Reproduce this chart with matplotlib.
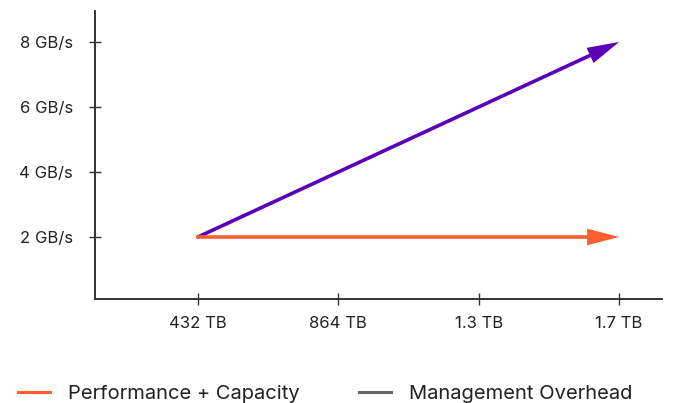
import matplotlib
matplotlib.use("Agg")
import matplotlib.pyplot as plt
from matplotlib.lines import Line2D

plt.rcParams['font.family'] = ['Inter', 'DejaVu Sans']

# data
x_labels = ["432 TB", "864 TB", "1.3 TB", "1.7 TB"]
x_pos = [1, 2, 3, 4]
y_ticks = [2, 4, 6, 8]
y_labels = ["2 GB/s", "4 GB/s", "6 GB/s", "8 GB/s"]

perf_start = (1, 2)
perf_end = (4, 8)
overhead_start = (1, 2)
overhead_end = (4, 2)

purple = "#5a00b8"
orange = "#ff5f2e"
gray = "#666666"

fig = plt.figure(figsize=(6.84, 4.03), dpi=100)
ax = fig.add_axes([95 / 684, 1 - 299 / 403, (662 - 95) / 684, (299 - 11) / 403])

ax.set_xlim(0.267, 4.306)
ax.set_ylim(0.092, 8.954)

def draw_arrow(start, end, color):
    # shaft, stopped short so it stays inside the head
    ax.annotate("", xy=end, xytext=start, xycoords="data", textcoords="data",
                arrowprops=dict(arrowstyle="-", color=color, lw=2.6,
                                shrinkA=0, shrinkB=12))
    # filled head, no stroke so the tip lands on the point
    ax.annotate("", xy=end, xytext=start, xycoords="data", textcoords="data",
                arrowprops=dict(arrowstyle="-|>,head_length=2.3,head_width=0.6",
                                mutation_scale=10, color=color, lw=0,
                                shrinkA=0, shrinkB=0))

draw_arrow(perf_start, perf_end, purple)
draw_arrow(overhead_start, overhead_end, orange)

ax.set_xticks(x_pos)
ax.set_xticklabels(x_labels)
ax.set_yticks(y_ticks)
ax.set_yticklabels(y_labels)

for s in ["top", "right"]:
    ax.spines[s].set_visible(False)
for s in ["left", "bottom"]:
    ax.spines[s].set_color("#333333")
    ax.spines[s].set_linewidth(1.4)

ax.tick_params(axis="both", direction="inout", length=8, width=1, color="#333333",
               labelsize=12, labelcolor="#222222")
ax.tick_params(axis="x", pad=8)
ax.tick_params(axis="y", pad=12)

handles = [Line2D([], [], color=orange, lw=2.2),
           Line2D([], [], color=gray, lw=2.2)]
fig.legend(handles, ["Performance + Capacity", "Management Overhead"],
           loc="lower left", bbox_to_anchor=(0.0, -0.045), ncol=2, frameon=False,
           fontsize=14.5, handlelength=1.6, handletextpad=0.9, columnspacing=2.9,
           labelcolor="#222222")

fig.savefig("out.png", dpi=100)
